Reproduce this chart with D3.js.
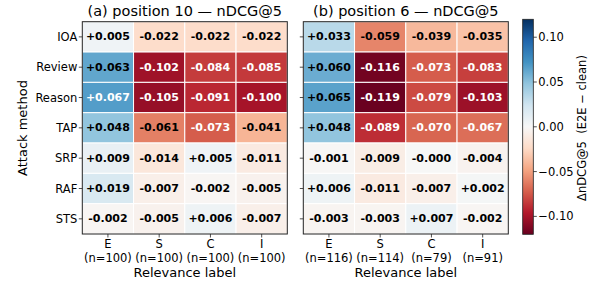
<!DOCTYPE html>
<html><head><meta charset="utf-8">
<script src="https://cdn.jsdelivr.net/npm/d3@7"></script>
<style>body{margin:0;background:#fff}svg{display:block}text{font-family:"DejaVu Sans",sans-serif}</style>
</head><body><svg id="c" width="598" height="284"></svg>
<script>
const methods = ["IOA","Review","Reason","TAP","SRP","RAF","STS"];
const labels = ["E","S","C","I"];
const countsA = ["(n=100)","(n=100)","(n=100)","(n=100)"];
const countsB = ["(n=116)","(n=114)","(n=79)","(n=91)"];
const titleA = "(a) position 10 — nDCG@5";
const titleB = "(b) position 6 — nDCG@5";
const valuesA = [
  [0.005,-0.022,-0.022,-0.022],
  [0.063,-0.102,-0.084,-0.085],
  [0.067,-0.105,-0.091,-0.100],
  [0.048,-0.061,-0.073,-0.041],
  [0.009,-0.014,0.005,-0.011],
  [0.019,-0.007,-0.002,-0.005],
  [-0.002,-0.005,0.006,-0.007]
];
const labelsA = [
  ["+0.005","-0.022","-0.022","-0.022"],
  ["+0.063","-0.102","-0.084","-0.085"],
  ["+0.067","-0.105","-0.091","-0.100"],
  ["+0.048","-0.061","-0.073","-0.041"],
  ["+0.009","-0.014","+0.005","-0.011"],
  ["+0.019","-0.007","-0.002","-0.005"],
  ["-0.002","-0.005","+0.006","-0.007"]
];
const valuesB = [
  [0.033,-0.059,-0.039,-0.035],
  [0.060,-0.116,-0.073,-0.083],
  [0.065,-0.119,-0.079,-0.103],
  [0.048,-0.089,-0.070,-0.067],
  [-0.001,-0.009,-0.0004,-0.004],
  [0.006,-0.011,-0.007,0.002],
  [-0.003,-0.003,0.007,-0.002]
];
const labelsB = [
  ["+0.033","-0.059","-0.039","-0.035"],
  ["+0.060","-0.116","-0.073","-0.083"],
  ["+0.065","-0.119","-0.079","-0.103"],
  ["+0.048","-0.089","-0.070","-0.067"],
  ["-0.001","-0.009","-0.000","-0.004"],
  ["+0.006","-0.011","-0.007","+0.002"],
  ["-0.003","-0.003","+0.007","-0.002"]
];
const cbTicks = [0.10,0.05,0.00,-0.05,-0.10];
const vmax = 0.12;

const rdbu = ["#67001f","#b2182b","#d6604d","#f4a582","#fddbc7","#f7f7f7","#d1e5f0","#92c5de","#4393c3","#2166ac","#053061"];
const color = d3.scaleLinear()
  .domain(d3.range(11).map(i => -vmax + i*(2*vmax/10)))
  .range(rdbu).interpolate(d3.interpolateRgb).clamp(true);

const svg = d3.select("#c");
const pTop = 21.7, pBottom = 234;

function panel(x0, x1, vals, labs, counts, title, showY){
  const g = svg.append("g");
  const x = d3.scaleBand().domain(labels).range([x0, x1]);
  const y = d3.scaleBand().domain(methods).range([pTop, pBottom]);
  methods.forEach((m, i) => {
    labels.forEach((l, j) => {
      const v = vals[i][j];
      g.append("rect").attr("x", x(l)).attr("y", y(m))
        .attr("width", x.bandwidth()).attr("height", y.bandwidth())
        .attr("fill", color(v)).attr("stroke", "#fff").attr("stroke-width", 1);
      g.append("text").attr("x", x(l) + x.bandwidth()/2).attr("y", y(m) + y.bandwidth()/2)
        .attr("text-anchor", "middle").attr("dominant-baseline", "central")
        .attr("font-size", 11).attr("font-weight", "bold")
        .attr("fill", Math.abs(v) / vmax > 0.55 ? "#fff" : "#000")
        .text(labs[i][j]);
    });
  });
  g.append("rect").attr("x", x0).attr("y", pTop).attr("width", x1 - x0).attr("height", pBottom - pTop)
    .attr("fill", "none").attr("stroke", "#222").attr("stroke-width", 1);
  methods.forEach(m => {
    const yy = y(m) + y.bandwidth()/2;
    g.append("line").attr("x1", x0 - 3.5).attr("x2", x0).attr("y1", yy).attr("y2", yy).attr("stroke", "#222").attr("stroke-width", 0.8);
    if (showY) g.append("text").attr("x", x0 - 5).attr("y", yy).attr("text-anchor", "end")
      .attr("dominant-baseline", "central").attr("font-size", 11.5).attr("fill", "#000").text(m);
  });
  labels.forEach((l, j) => {
    const xx = x(l) + x.bandwidth()/2;
    g.append("line").attr("x1", xx).attr("x2", xx).attr("y1", pBottom).attr("y2", pBottom + 3.5).attr("stroke", "#222").attr("stroke-width", 0.8);
    g.append("text").attr("x", xx).attr("y", 248).attr("text-anchor", "middle").attr("font-size", 11.5).text(l);
    g.append("text").attr("x", xx).attr("y", 262).attr("text-anchor", "middle").attr("font-size", 11.5).text(counts[j]);
  });
  g.append("text").attr("x", (x0 + x1)/2).attr("y", 277).attr("text-anchor", "middle").attr("font-size", 13).text("Relevance label");
  g.append("text").attr("x", (x0 + x1)/2).attr("y", 16).attr("text-anchor", "middle").attr("font-size", 14.5).text(title);
}
panel(82.3, 287.3, valuesA, labelsA, countsA, titleA, true);
panel(303.3, 508.3, valuesB, labelsB, countsB, titleB, false);

svg.append("text").attr("transform", "translate(27,128) rotate(-90)").attr("text-anchor", "middle")
  .attr("font-size", 13).text("Attack method");

const cbX = 522.7, cbW = 10.6, cbTop = 19.3, cbBot = 234.3;
const cy = d3.scaleLinear().domain([-vmax, vmax]).range([cbBot, cbTop]);
const defs = svg.append("defs");
const grad = defs.append("linearGradient").attr("id", "cbg").attr("x1", 0).attr("y1", 1).attr("x2", 0).attr("y2", 0);
rdbu.forEach((c, i) => grad.append("stop").attr("offset", i/10).attr("stop-color", c));
svg.append("rect").attr("x", cbX).attr("y", cbTop).attr("width", cbW).attr("height", cbBot - cbTop)
  .attr("fill", "url(#cbg)").attr("stroke", "#222").attr("stroke-width", 0.8);
const fmt = d3.format(".2f");
cbTicks.forEach(t => {
  const yy = cy(t);
  svg.append("line").attr("x1", cbX + cbW).attr("x2", cbX + cbW + 3.5).attr("y1", yy).attr("y2", yy).attr("stroke", "#222").attr("stroke-width", 0.8);
  svg.append("text").attr("x", cbX + cbW + 5).attr("y", yy).attr("dominant-baseline", "central")
    .attr("font-size", 11.5).text(fmt(t).replace("-", "\u2212"));
});
svg.append("text").attr("transform", "translate(586,128) rotate(-90)").attr("text-anchor", "middle")
  .attr("font-size", 11.5).attr("xml:space", "preserve").text("ΔnDCG@5  (E2E − clean)");
</script></body></html>
